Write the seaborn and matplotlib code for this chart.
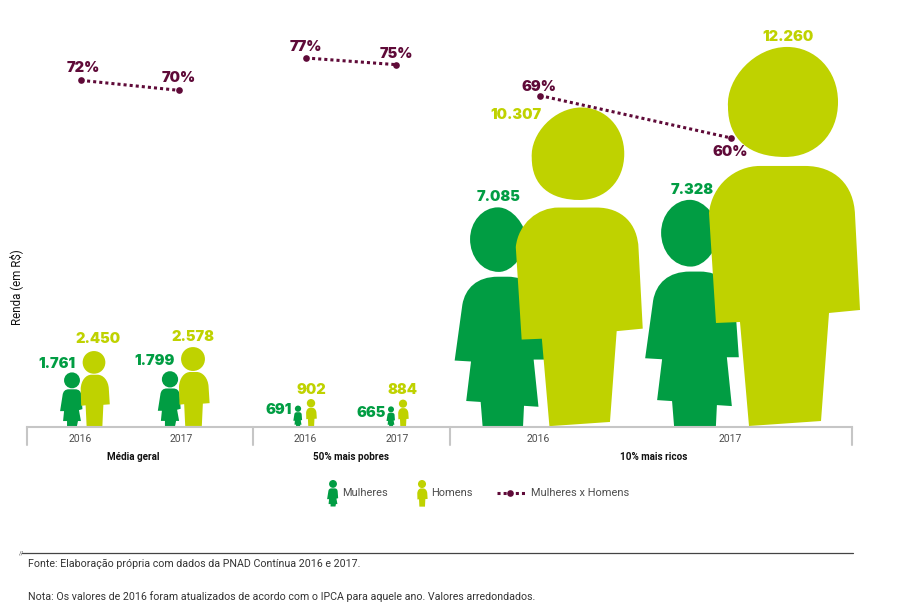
import pandas as pd
import seaborn as sns
import matplotlib.pyplot as plt
from matplotlib.path import Path
from matplotlib.patches import PathPatch
from matplotlib.lines import Line2D

# dados
groups = ['Média geral', '50% mais pobres', '10% mais ricos']
years = ['2016', '2017', '2016', '2017', '2016', '2017']
women = [1761, 1799, 691, 665, 7085, 7328]
men = [2450, 2578, 902, 884, 10307, 12260]
ratio = [71.9, 69.8, 76.6, 75.2, 68.7, 59.8]
segment = [0, 0, 1, 1, 2, 2]

# layout (x em pixels)
year_x = [80, 181, 305, 397, 538, 730]
line_x = [81, 179, 306, 396, 540, 731]
woman_x = [72, 170, 298, 391, 498, 690]
man_x = [94, 193, 311, 403, 578, 783]
group_x = [133, 351, 654]
sep_x = [27, 253, 450, 852]
woman_off = [(-15, 8), (-15, 10), (-19, -4), (-20, -7), (1, 10), (2, 10)]
man_off = [(4, 12), (0, 10), (0, 9), (-1, 10), (-62, -8), (5, 10)]
pct_off = [(2, 12), (0, 12), (0, 11), (0, 11), (-1, 9), (-1, -14)]

GREEN = '#019d43'
LIME = '#bfd200'
WINE = '#5f0a38'
GREY = '#c6c6c6'
TEXT = '#4d4d4d'
NUM_FONT = 'Inter'
TXT_FONT = 'Roboto'
PX_PER_REAL = 0.031
SMALL = 3000


def outline(parts, cx, h):
    verts, codes = [], []
    for code, pts in parts:
        for x, y in pts:
            verts.append(((x - cx) / h, (427 - y) / h))
            codes.append(code)
    return Path(verts, codes)


def head(cx, cy, rx, ry):
    k = 0.56
    return [
        (Path.MOVETO, [(cx, cy - ry)]),
        (Path.CURVE4, [(cx + k * rx, cy - ry), (cx + rx, cy - k * ry), (cx + rx, cy)]),
        (Path.CURVE4, [(cx + rx, cy + k * ry), (cx + k * rx, cy + ry), (cx, cy + ry)]),
        (Path.CURVE4, [(cx - k * rx, cy + ry), (cx - rx, cy + k * ry), (cx - rx, cy)]),
        (Path.CURVE4, [(cx - rx, cy - k * ry), (cx - k * rx, cy - ry), (cx, cy - ry)]),
        (Path.CLOSEPOLY, [(cx, cy - ry)]),
    ]


# bonecos grandes, tracados sobre o de 2017
MAN_HEAD = [
    (Path.MOVETO, [(787, 47)]),
    (Path.CURVE4, [(815, 47), (838, 70), (838, 102)]),
    (Path.CURVE4, [(838, 135), (815, 157), (785, 157)]),
    (Path.CURVE4, [(750, 157), (728, 140), (728, 107)]),
    (Path.CURVE4, [(726, 78), (755, 47), (787, 47)]),
    (Path.CLOSEPOLY, [(787, 47)]),
]
MAN_BODY = [
    (Path.MOVETO, [(709, 213)]),
    (Path.CURVE4, [(712, 185), (735, 166), (760, 166)]),
    (Path.LINETO, [(805, 166)]),
    (Path.CURVE4, [(835, 166), (854, 185), (855, 215)]),
    (Path.LINETO, [(860, 310), (829, 313), (821, 421), (749, 426), (740, 322), (716, 323)]),
    (Path.CLOSEPOLY, [(709, 213)]),
]
WOMAN_HEAD = [
    (Path.MOVETO, [(690, 199)]),
    (Path.CURVE4, [(705, 199), (719, 218), (719, 231)]),
    (Path.CURVE4, [(719, 248), (705, 266), (691, 266)]),
    (Path.CURVE4, [(673, 266), (661, 250), (661, 232)]),
    (Path.CURVE4, [(661, 214), (674, 199), (690, 199)]),
    (Path.CLOSEPOLY, [(690, 199)]),
]
WOMAN_BODY = [
    (Path.MOVETO, [(653, 300)]),
    (Path.CURVE4, [(656, 283), (668, 271), (690, 271)]),
    (Path.LINETO, [(700, 271)]),
    (Path.CURVE4, [(720, 271), (733, 283), (735, 300)]),
    (Path.LINETO, [(739, 357), (727, 357), (732, 406), (717, 405), (716, 426), (674, 426),
                   (672, 401), (657, 400), (662, 359), (645, 358)]),
    (Path.CLOSEPOLY, [(653, 300)]),
]
# os pequenos sao mais gordinhos
MAN_SMALL_BODY = [
    (Path.MOVETO, [(81, 388)]),
    (Path.CURVE4, [(81.5, 380), (86, 374), (92, 374)]),
    (Path.LINETO, [(98, 374)]),
    (Path.CURVE4, [(104, 374), (109, 380), (109.5, 388)]),
    (Path.LINETO, [(110.5, 404), (104, 404.5), (103, 426), (87, 426), (86, 405), (81.5, 405.5)]),
    (Path.CLOSEPOLY, [(81, 388)]),
]
WOMAN_SMALL_BODY = [
    (Path.MOVETO, [(62.5, 395)]),
    (Path.CURVE4, [(63, 391), (65, 389), (69, 389)]),
    (Path.LINETO, [(75, 389)]),
    (Path.CURVE4, [(79, 389), (81, 391), (81.5, 395)]),
    (Path.LINETO, [(82.5, 409), (79, 410), (81, 421), (78, 421), (77, 426), (67, 426),
                   (67, 421), (63, 421), (64, 411), (60, 411)]),
    (Path.CLOSEPOLY, [(62.5, 395)]),
]
MAN = [outline(MAN_HEAD, 783, 380), outline(MAN_BODY, 783, 380)]
WOMAN = [outline(WOMAN_HEAD, 690, 228), outline(WOMAN_BODY, 690, 228)]
MAN_SMALL = [outline(head(94.5, 361.5, 11.5, 11.5), 94.5, 77), outline(MAN_SMALL_BODY, 94.5, 77)]
WOMAN_SMALL = [outline(head(72, 380, 8, 8), 72, 55), outline(WOMAN_SMALL_BODY, 72, 55)]


def draw_person(ax, shape, cx, base, value, color):
    # altura do boneco proporcional ao valor
    width = value * PX_PER_REAL
    for part in shape:
        verts = [(cx + u * width, base + v * value) for u, v in part.vertices]
        ax.add_patch(PathPatch(Path(verts, part.codes), fc=color, ec='none', clip_on=False))


sns.set_theme(style='white')
plt.rcParams['font.family'] = [TXT_FONT, 'DejaVu Sans']

fig = plt.figure(figsize=(8.98, 6.10), dpi=100)
ax = fig.add_axes([27 / 898, 183 / 610, 825 / 898, 427 / 610])
ax.set_xlim(27, 852)
ax.set_ylim(0, 427 / PX_PER_REAL)

for i in range(len(women)):
    draw_person(ax, WOMAN_SMALL if women[i] < SMALL else WOMAN, woman_x[i], 0, women[i], GREEN)
    draw_person(ax, MAN_SMALL if men[i] < SMALL else MAN, man_x[i], 0, men[i], LIME)
    ax.annotate(f'{women[i]:,}'.replace(',', '.'), (woman_x[i], women[i]), xytext=woman_off[i],
                textcoords='offset pixels', ha='center', va='center', color=GREEN,
                fontsize=10.5, fontweight=900, family=NUM_FONT)
    ax.annotate(f'{men[i]:,}'.replace(',', '.'), (man_x[i], men[i]), xytext=man_off[i],
                textcoords='offset pixels', ha='center', va='center', color=LIME,
                fontsize=10.5, fontweight=900, family=NUM_FONT)

ax.set_xticks(year_x)
ax.set_xticklabels(years, fontsize=7.5, color=TEXT)
ax.tick_params(axis='x', length=0, pad=5)
ax.set_yticks([])
sns.despine(ax=ax, left=True)
ax.spines['bottom'].set_color(GREY)
ax.spines['bottom'].set_linewidth(1.5)
trans = ax.get_xaxis_transform()
for x in sep_x:
    ax.plot([x, x], [0, -18 / 427], color=GREY, lw=1.5, transform=trans, clip_on=False)
for x, name in zip(group_x, groups):
    ax.text(x, -30 / 427, name, transform=trans, ha='center', va='center', fontsize=7.1,
            fontweight='bold', color='#111111')

# razao mulheres x homens, eixo proprio
ax2 = ax.twinx()
ax2.set_ylim(-0.92, 88.78)
ax2.axis('off')
df = pd.DataFrame({'x': line_x, 'ratio': ratio, 'segment': segment})
sns.lineplot(data=df, x='x', y='ratio', units='segment', estimator=None, ax=ax2, color=WINE,
             linewidth=2.2, linestyle=(0, (1, 1)), marker='o', markersize=4.8,
             markeredgewidth=0, legend=False)
for x, v, off in zip(line_x, ratio, pct_off):
    ax2.annotate(f'{v:.0f}%', (x, v), xytext=off, textcoords='offset pixels', ha='center',
                 va='center', color=WINE, fontsize=10.5, fontweight=900, family=NUM_FONT)

# legenda
draw_person(ax, WOMAN_SMALL, 333, -80 / PX_PER_REAL, 27 / PX_PER_REAL, GREEN)
draw_person(ax, MAN_SMALL, 422, -80 / PX_PER_REAL, 27 / PX_PER_REAL, LIME)
for x, name in zip([342, 431, 531], ['Mulheres', 'Homens', 'Mulheres x Homens']):
    fig.text(x / 898, 1 - 493 / 610, name, ha='left', va='center', fontsize=7.9, color=TEXT)
fig.add_artist(Line2D([497 / 898, 525 / 898], [1 - 493 / 610] * 2, color=WINE, lw=2.2,
                      linestyle=(0, (1, 1))))
fig.add_artist(Line2D([510 / 898], [1 - 493 / 610], color=WINE, marker='o', markersize=4.8,
                      markeredgewidth=0))

fig.text(16 / 898, 1 - 287 / 610, 'Renda (em R$)', rotation=90, ha='center', va='center',
         fontsize=8.3, color='#111111')

# rodape
fig.add_artist(Line2D([22 / 898, 853 / 898], [1 - 553 / 610] * 2, color='#444444', lw=0.9))
fig.text(24 / 898, 1 - 553 / 610, '//', ha='right', va='center', fontsize=4.5, color='#444444')
fig.text(28 / 898, 1 - 564 / 610, 'Fonte: Elaboração própria com dados da PNAD Contínua 2016 e 2017.',
         ha='left', va='center', fontsize=7.65, color='#333333')
fig.text(28 / 898, 1 - 597 / 610,
         'Nota: Os valores de 2016 foram atualizados de acordo com o IPCA para aquele ano. Valores arredondados.',
         ha='left', va='center', fontsize=7.68, color='#333333')

fig.savefig('out.png', dpi=100)
